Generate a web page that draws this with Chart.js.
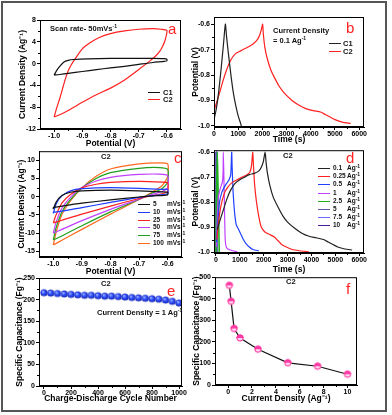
<!DOCTYPE html>
<html>
<head>
<meta charset="utf-8">
<script src="https://cdn.jsdelivr.net/npm/chart.js@4.4.1/dist/chart.umd.min.js"></script>
<style>
  body { margin: 0; background: #fff; }
  #fig { position: relative; width: 392px; height: 415px; overflow: hidden;
         font-family: 'Liberation Sans', Arial, sans-serif; font-weight: bold; color: #111; }
  #frame { position: absolute; left: 1px; top: 1px; width: 382px; height: 407px; border: 2px solid #555; }
  canvas { position: absolute; }
  .t { position: absolute; white-space: nowrap; font-size: 7.5px; line-height: 1; }
  .lt { position: absolute; font-weight: normal; color: #f22; font-size: 15px; line-height: 1; }
  .sw { position: absolute; width: 12px; height: 0; border-top: 1.5px solid; }
  sup { font-size: 5px; vertical-align: top; position: relative; top: -1px; }
</style>
</head>
<body>
<div id="fig">
  <div id="frame"></div>
  <canvas id="pa"></canvas>
  <canvas id="pb"></canvas>
  <canvas id="pc"></canvas>
  <canvas id="pd"></canvas>
  <canvas id="pe"></canvas>
  <canvas id="pf"></canvas>

  <!-- a -->
  <div class="t" style="left:50px;top:25px">Scan rate- 50mVs<sup>-1</sup></div>
  <div class="lt" style="left:168px;top:21px">a</div>
  <div class="sw" style="left:148px;top:92px;border-color:#111"></div><div class="t" style="left:163px;top:89px">C1</div>
  <div class="sw" style="left:148px;top:99px;border-color:#f22"></div><div class="t" style="left:163px;top:96px">C2</div>
  <!-- b -->
  <div class="t" style="left:273px;top:27px">Current Density</div>
  <div class="t" style="left:273px;top:37px">= 0.1 Ag<sup>-1</sup></div>
  <div class="lt" style="left:346px;top:20px">b</div>
  <div class="sw" style="left:329px;top:43px;border-color:#222"></div><div class="t" style="left:343px;top:40px">C1</div>
  <div class="sw" style="left:329px;top:51px;border-color:#f22"></div><div class="t" style="left:343px;top:48px">C2</div>
  <!-- c -->
  <div class="t" style="left:101px;top:153px">C2</div>
  <div class="lt" style="left:174px;top:150px">c</div>
  <div id="legc"></div>
  <!-- d -->
  <div class="t" style="left:283px;top:152px">C2</div>
  <div class="lt" style="left:346px;top:150px">d</div>
  <div id="legd"></div>
  <!-- e -->
  <div class="t" style="left:101px;top:280px">C2</div>
  <div class="lt" style="left:167px;top:283px">e</div>
  <div class="t" style="left:97px;top:309px">Current Density = 1 Ag<sup>-1</sup></div>
  <!-- f -->
  <div class="t" style="left:286px;top:278px">C2</div>
  <div class="lt" style="left:346px;top:281px">f</div>
</div>
<script>
Chart.defaults.font.family = "'Liberation Sans', Arial, sans-serif";
Chart.defaults.font.weight = 'bold';
Chart.defaults.color = '#000';

// ---- data ----
const CV_TICKS = [-1.0, -0.9, -0.8, -0.7, -0.6];
const GCD_Y_TICKS = [-1.0, -0.9, -0.8, -0.7, -0.6];
const TIME_TICKS = [0, 1000, 2000, 3000, 4000, 5000, 6000];

// a: CV at 50 mV/s  [potential V, current A/g]
const cvC1 = [[-1.0,-2.1],[-0.99,-1.2],[-0.98,-0.5],[-0.965,0.3],[-0.95,0.6],[-0.93,0.75],[-0.88,0.88],[-0.8,0.95],
  [-0.72,0.96],[-0.65,0.95],[-0.61,0.9],[-0.6,0.8],[-0.6,0.5],[-0.61,0.4],[-0.65,0.2],[-0.7,-0.15],[-0.75,-0.5],
  [-0.8,-0.8],[-0.85,-1.1],[-0.9,-1.45],[-0.95,-1.8],[-0.98,-2.0],[-1.0,-2.1]];
const cvC2 = [[-1.0,-9.8],[-0.99,-8.0],[-0.98,-6.4],[-0.97,-4.6],[-0.96,-2.8],[-0.95,-1.3],[-0.94,-0.3],[-0.925,0.9],
  [-0.9,2.7],[-0.87,3.9],[-0.84,4.8],[-0.8,5.5],[-0.75,6.0],[-0.7,6.3],[-0.65,6.4],[-0.62,6.3],[-0.6,6.1],
  [-0.602,5.2],[-0.607,4.2],[-0.615,3.2],[-0.625,2.3],[-0.64,1.4],[-0.66,0.5],[-0.7,-1.1],[-0.75,-3.0],
  [-0.8,-4.5],[-0.85,-5.7],[-0.9,-7.1],[-0.95,-8.6],[-0.98,-9.4],[-1.0,-9.8]];

// b: charge-discharge at 0.1 A/g  [time s, potential V]
const gcdC1 = [[0,-0.975],[100,-0.93],[200,-0.86],[300,-0.77],[400,-0.67],[470,-0.6],[520,-0.65],[600,-0.72],
  [700,-0.8],[800,-0.87],[900,-0.92],[1000,-0.96],[1100,-0.99],[1130,-1.0]];
const gcdC2 = [[0,-0.94],[100,-0.91],[200,-0.88],[350,-0.83],[500,-0.785],[700,-0.74],[900,-0.715],[1100,-0.705],
  [1300,-0.695],[1500,-0.685],[1650,-0.675],[1800,-0.66],[1900,-0.64],[1960,-0.62],[2010,-0.6],[2040,-0.64],
  [2100,-0.69],[2200,-0.735],[2350,-0.78],[2500,-0.81],[2700,-0.845],[2900,-0.87],[3200,-0.898],[3500,-0.918],
  [3800,-0.932],[4100,-0.94],[4400,-0.945],[4600,-0.955],[4800,-0.965],[5000,-0.975],[5300,-0.985],[5650,-0.99]];

// c: CV of C2 at several scan rates
const scanRates = ['5', '10', '25', '50', '75', '100'];
const scanColors = ['#111111', '#1e3cff', '#ff2020', '#c040ff', '#20a020', '#ff6a20'];
const cvRates = [
  [[-1.0,-3.4],[-0.99,-1.5],[-0.97,0.3],[-0.94,1.2],[-0.9,1.6],[-0.8,1.8],[-0.7,1.6],[-0.62,1.3],[-0.6,1.2],
   [-0.6,0.5],[-0.65,0.2],[-0.7,-0.1],[-0.8,-0.9],[-0.9,-1.8],[-0.97,-2.6],[-1.0,-3.0],[-1.0,-3.4]],
  [[-1.0,-4.6],[-0.99,-2.0],[-0.97,0.2],[-0.94,1.6],[-0.9,2.2],[-0.8,2.5],[-0.7,2.3],[-0.62,2.0],[-0.6,2.0],
   [-0.6,0.8],[-0.65,0.3],[-0.7,-0.2],[-0.8,-1.6],[-0.9,-3.0],[-0.97,-4.0],[-1.0,-4.3],[-1.0,-4.6]],
  [[-1.0,-7.2],[-0.99,-5.0],[-0.97,-1.8],[-0.94,0.6],[-0.9,2.4],[-0.85,3.4],[-0.8,3.9],[-0.7,4.2],[-0.62,4.0],[-0.6,3.8],
   [-0.6,1.5],[-0.62,0.8],[-0.66,0.2],[-0.7,-0.5],[-0.8,-2.6],[-0.9,-4.8],[-0.97,-6.5],[-1.0,-7.2]],
  [[-1.0,-10.0],[-0.99,-7.0],[-0.97,-3.2],[-0.94,-0.2],[-0.9,2.5],[-0.85,4.3],[-0.8,5.3],[-0.7,6.1],[-0.63,6.2],[-0.6,5.8],
   [-0.6,2.5],[-0.62,1.4],[-0.66,0.5],[-0.7,-0.7],[-0.8,-3.5],[-0.9,-6.6],[-0.97,-9.0],[-1.0,-10.0]],
  [[-1.0,-11.9],[-0.99,-8.5],[-0.97,-4.2],[-0.94,-0.8],[-0.9,2.4],[-0.85,5.0],[-0.8,6.6],[-0.7,7.8],[-0.63,8.0],[-0.6,7.5],
   [-0.6,4.0],[-0.62,2.2],[-0.66,0.8],[-0.7,-0.8],[-0.8,-4.2],[-0.9,-8.0],[-0.97,-10.8],[-1.0,-11.9]],
  [[-1.0,-13.3],[-0.99,-9.8],[-0.97,-5.0],[-0.94,-1.2],[-0.9,2.4],[-0.85,5.6],[-0.8,7.6],[-0.7,9.0],[-0.63,9.3],[-0.6,9.0],
   [-0.6,5.5],[-0.62,3.0],[-0.66,1.0],[-0.7,-0.8],[-0.8,-4.8],[-0.9,-9.0],[-0.97,-12.0],[-1.0,-13.3]],
];

// d: charge-discharge of C2 at several current densities
const currents = ['0.1', '0.25', '0.5', '1', '2.5', '5', '7.5', '10'];
const currentColors = ['#222222', '#ff2020', '#2040ff', '#c040ff', '#20b020', '#5a5aa8', '#6a6aff', '#4a1a9a'];
const gcdRates = [
  [[60,-0.91],[150,-0.88],[300,-0.835],[450,-0.79],[600,-0.755],[800,-0.725],[1000,-0.71],[1200,-0.7],[1400,-0.69],
   [1600,-0.685],[1800,-0.675],[1900,-0.66],[1980,-0.64],[2060,-0.6],[2100,-0.64],[2150,-0.68],[2250,-0.73],
   [2400,-0.78],[2600,-0.82],[2800,-0.855],[3000,-0.88],[3300,-0.905],[3600,-0.925],[3900,-0.937],[4200,-0.943],
   [4500,-0.95],[4700,-0.96],[4900,-0.97],[5100,-0.98],[5400,-0.988],[5700,-0.992]],
  [[40,-0.95],[100,-0.89],[200,-0.82],[350,-0.765],[500,-0.74],[700,-0.72],[900,-0.71],[1100,-0.7],[1300,-0.69],
   [1420,-0.68],[1490,-0.655],[1540,-0.6],[1570,-0.65],[1620,-0.73],[1700,-0.8],[1800,-0.86],[1900,-0.9],
   [2050,-0.92],[2250,-0.93],[2450,-0.94],[2600,-0.955],[2750,-0.97],[2950,-0.98],[3200,-0.99],[3500,-0.995],[3900,-1.0]],
  [[30,-0.96],[80,-0.88],[150,-0.8],[250,-0.76],[350,-0.74],[450,-0.725],[550,-0.71],[620,-0.69],[660,-0.6],
   [680,-0.66],[720,-0.76],[780,-0.84],[850,-0.89],[950,-0.91],[1050,-0.93],[1150,-0.95],[1250,-0.965],
   [1400,-0.98],[1550,-0.99],[1800,-0.995]],
  [[20,-0.98],[60,-0.85],[120,-0.77],[200,-0.74],[270,-0.72],[300,-0.68],[310,-0.6],[330,-0.68],[350,-0.78],
   [370,-0.88],[390,-0.95],[420,-0.975],[470,-0.985],[550,-0.99],[700,-0.995],[900,-1.0]],
  [[5,-1.0],[20,-0.8],[60,-0.6],[100,-0.8],[140,-1.0]],
  [[0,-1.0],[12,-0.8],[25,-0.6],[38,-0.8],[50,-1.0]],
  [[0,-1.0],[15,-0.6],[30,-1.0]],
  [[-5,-1.0],[5,-0.6],[15,-1.0]],
];

// e: cycling stability at 1 A/g
const cycles = [0,50,100,150,200,250,300,350,400,450,500,550,600,650,700,750,800,850,900,950,1000];
const cycleCap = [216,215,214,213,212,211,210,210,209,208,208,207,206,205,204,203,202,201,199,196,192];

// f: rate capability
const densities = [0.1, 0.25, 0.5, 1, 2.5, 5, 7.5, 10];
const rateCap = [462, 388, 262, 218, 166, 103, 87, 50];

// ---- helpers ----
const pts = arr => arr.map(([x, y]) => ({ x, y }));

function line(data, color, width = 1.2) {
  return { data: pts(data), showLine: true, borderColor: color, backgroundColor: color,
           borderWidth: width, pointRadius: 0, tension: 0.2 };
}

function sprite(r, draw) {
  const c = document.createElement('canvas');
  c.width = c.height = Math.ceil(r * 2 + 2);
  draw(c.getContext('2d'), c.width / 2, r);
  return c;
}
const blueBall = sprite(3.6, (g, m, r) => {
  const grd = g.createRadialGradient(m - 1.2, m - 1.2, 0.3, m, m, r);
  grd.addColorStop(0, '#a8b8ff'); grd.addColorStop(0.45, '#3050ff'); grd.addColorStop(1, '#1626b0');
  g.fillStyle = grd; g.beginPath(); g.arc(m, m, r, 0, Math.PI * 2); g.fill();
});
const pinkDot = sprite(3.6, (g, m, r) => {
  g.fillStyle = '#ffd6ee'; g.beginPath(); g.arc(m, m, r, 0, Math.PI * 2); g.fill();
  g.fillStyle = '#ff40a8'; g.beginPath(); g.arc(m, m, r, Math.PI, Math.PI * 2); g.fill();
  g.strokeStyle = '#ff2a9a'; g.lineWidth = 1; g.beginPath(); g.arc(m, m, r - 0.5, 0, Math.PI * 2); g.stroke();
});

// full box round the plot area plus half-step minor ticks
const boxPlugin = {
  id: 'box',
  afterDraw(chart) {
    const { ctx, chartArea: a, scales: { x, y } } = chart;
    ctx.save();
    ctx.strokeStyle = '#000';
    ctx.lineWidth = 1;
    ctx.strokeRect(a.left + 0.5, a.top + 0.5, a.right - a.left - 1, a.bottom - a.top - 1);
    ctx.beginPath();
    for (let i = 0; i < x.ticks.length - 1; i++) {
      const p = Math.round((x.getPixelForValue(x.ticks[i].value) + x.getPixelForValue(x.ticks[i + 1].value)) / 2) + 0.5;
      ctx.moveTo(p, a.bottom); ctx.lineTo(p, a.bottom + 2);
    }
    for (let i = 0; i < y.ticks.length - 1; i++) {
      const p = Math.round((y.getPixelForValue(y.ticks[i].value) + y.getPixelForValue(y.ticks[i + 1].value)) / 2) + 0.5;
      ctx.moveTo(a.left, p); ctx.lineTo(a.left - 2, p);
    }
    ctx.stroke();
    ctx.restore();
  },
};

function axis(s, horizontal, size) {
  return {
    type: 'linear', min: s.min, max: s.max,
    afterBuildTicks: sc => { sc.ticks = s.ticks.map(v => ({ value: v })); },
    afterFit: sc => { if (horizontal) sc.height = size; else sc.width = size; },
    grid: { drawOnChartArea: false, drawTicks: true, tickLength: 3, color: '#000', lineWidth: 1 },
    border: { color: '#000', width: 1 },
    ticks: { color: '#000', font: { size: 7, weight: 'bold' }, padding: horizontal ? 0 : 1,
             maxRotation: 0, autoSkip: false, callback: s.fmt || (v => String(v)) },
    title: { display: true, text: s.title, color: '#000', font: { size: 8.5, weight: 'bold' },
             padding: horizontal ? { top: 0, bottom: s.pad } : { top: s.pad, bottom: 0 } },
  };
}

function panel(id, pos, plot, datasets, xs, ys) {
  const cv = document.getElementById(id);
  cv.width = pos.w; cv.height = pos.h;
  cv.style.left = pos.l + 'px'; cv.style.top = pos.t + 'px';
  return new Chart(cv, {
    type: 'scatter',
    data: { datasets },
    options: {
      responsive: false, animation: false, events: [],
      layout: { padding: { left: 0, bottom: 0, top: plot.T - pos.t, right: pos.l + pos.w - plot.R } },
      plugins: { legend: { display: false }, tooltip: { enabled: false } },
      scales: {
        x: axis(xs, true, pos.t + pos.h - plot.B),
        y: axis(ys, false, plot.L - pos.l),
      },
    },
    plugins: [boxPlugin],
  });
}

const fix1 = v => v.toFixed(1);
const CUR = 'Current Density (Ag\u207B\u00B9)';
const CAP = 'Specific Capacitance (Fg\u207B\u00B9)';

// a
panel('pa', { l: 2, t: 12, w: 190, h: 140 }, { L: 40, T: 20, R: 181, B: 129 },
  [line(cvC1, '#111'), line(cvC2, '#ff2020')],
  { min: -1.05, max: -0.55, ticks: CV_TICKS, fmt: fix1, title: 'Potential (V)', pad: 2.9 },
  { min: -12, max: 8, ticks: [-12, -8, -4, 0, 4, 8], title: CUR, pad: 16 });

// b
panel('pb', { l: 186, t: 10, w: 190, h: 140 }, { L: 214, T: 17, R: 364, B: 127 },
  [line(gcdC1, '#222'), line(gcdC2, '#ff2020')],
  { min: 0, max: 6200, ticks: TIME_TICKS, title: 'Time (s)', pad: 5 },
  { min: -1.004, max: -0.572, ticks: GCD_Y_TICKS, fmt: fix1, title: 'Potential (V)', pad: 5 });

// c
panel('pc', { l: 2, t: 146, w: 190, h: 134 }, { L: 39, T: 151, R: 182, B: 257 },
  cvRates.map((d, i) => line(d, scanColors[i])),
  { min: -1.05, max: -0.55, ticks: CV_TICKS, fmt: fix1, title: 'Potential (V)', pad: 2.9 },
  { min: -16.6, max: 12.5, ticks: [-15, -10, -5, 0, 5, 10], title: CUR, pad: 15 });

// d
panel('pd', { l: 186, t: 145, w: 190, h: 135 }, { L: 214, T: 150, R: 364, B: 253 },
  gcdRates.map((d, i) => line(d, currentColors[i], i >= 4 ? 1.6 : 1.2)),
  { min: -80, max: 6200, ticks: TIME_TICKS, title: 'Time (s)', pad: 5 },
  { min: -1.004, max: -0.592, ticks: GCD_Y_TICKS, fmt: fix1, title: 'Potential (V)', pad: 5 });

// e
panel('pe', { l: 2, t: 272, w: 190, h: 136 }, { L: 39, T: 278, R: 182, B: 386 },
  [{ data: cycles.map((c, i) => ({ x: c, y: cycleCap[i] })), pointStyle: blueBall, pointRadius: 3.6, showLine: false }],
  { min: -37, max: 1022, ticks: [0, 200, 400, 600, 800, 1000], title: 'Charge-Discharge Cycle Number', pad: 4 },
  { min: 0, max: 250, ticks: [0, 50, 100, 150, 200, 250], title: CAP, pad: 13 });

// f
panel('pf', { l: 186, t: 272, w: 190, h: 136 }, { L: 215, T: 277, R: 357, B: 385 },
  [{ data: densities.map((d, i) => ({ x: d, y: rateCap[i] })), showLine: true, borderColor: '#111',
     borderWidth: 1.2, pointStyle: pinkDot, pointRadius: 3.6, tension: 0 }],
  { min: -1.1, max: 10.8, ticks: [0, 2, 4, 6, 8, 10], title: CUR, pad: 4 },
  { min: 0, max: 500, ticks: [0, 100, 200, 300, 400, 500], title: CAP, pad: 6 });

// legends for c and d
function legend(el, labels, colors, x, y0, step, unit) {
  labels.forEach((lab, i) => {
    const y = y0 + i * step;
    el.insertAdjacentHTML('beforeend',
      `<div class="sw" style="left:${x}px;top:${y}px;border-color:${colors[i]}"></div>` +
      `<div class="t" style="left:${x + 15}px;top:${y - 3}px;font-size:6.5px">${lab}</div>` +
      `<div class="t" style="left:${x + 29}px;top:${y - 3}px;font-size:6.5px">${unit}</div>`);
  });
}
legend(document.getElementById('legc'), scanRates, scanColors, 138, 204, 7.8, 'mVs<sup>-1</sup>');
legend(document.getElementById('legd'), currents, currentColors, 318, 168, 8.2, 'Ag<sup>-1</sup>');
</script>
</body>
</html>
